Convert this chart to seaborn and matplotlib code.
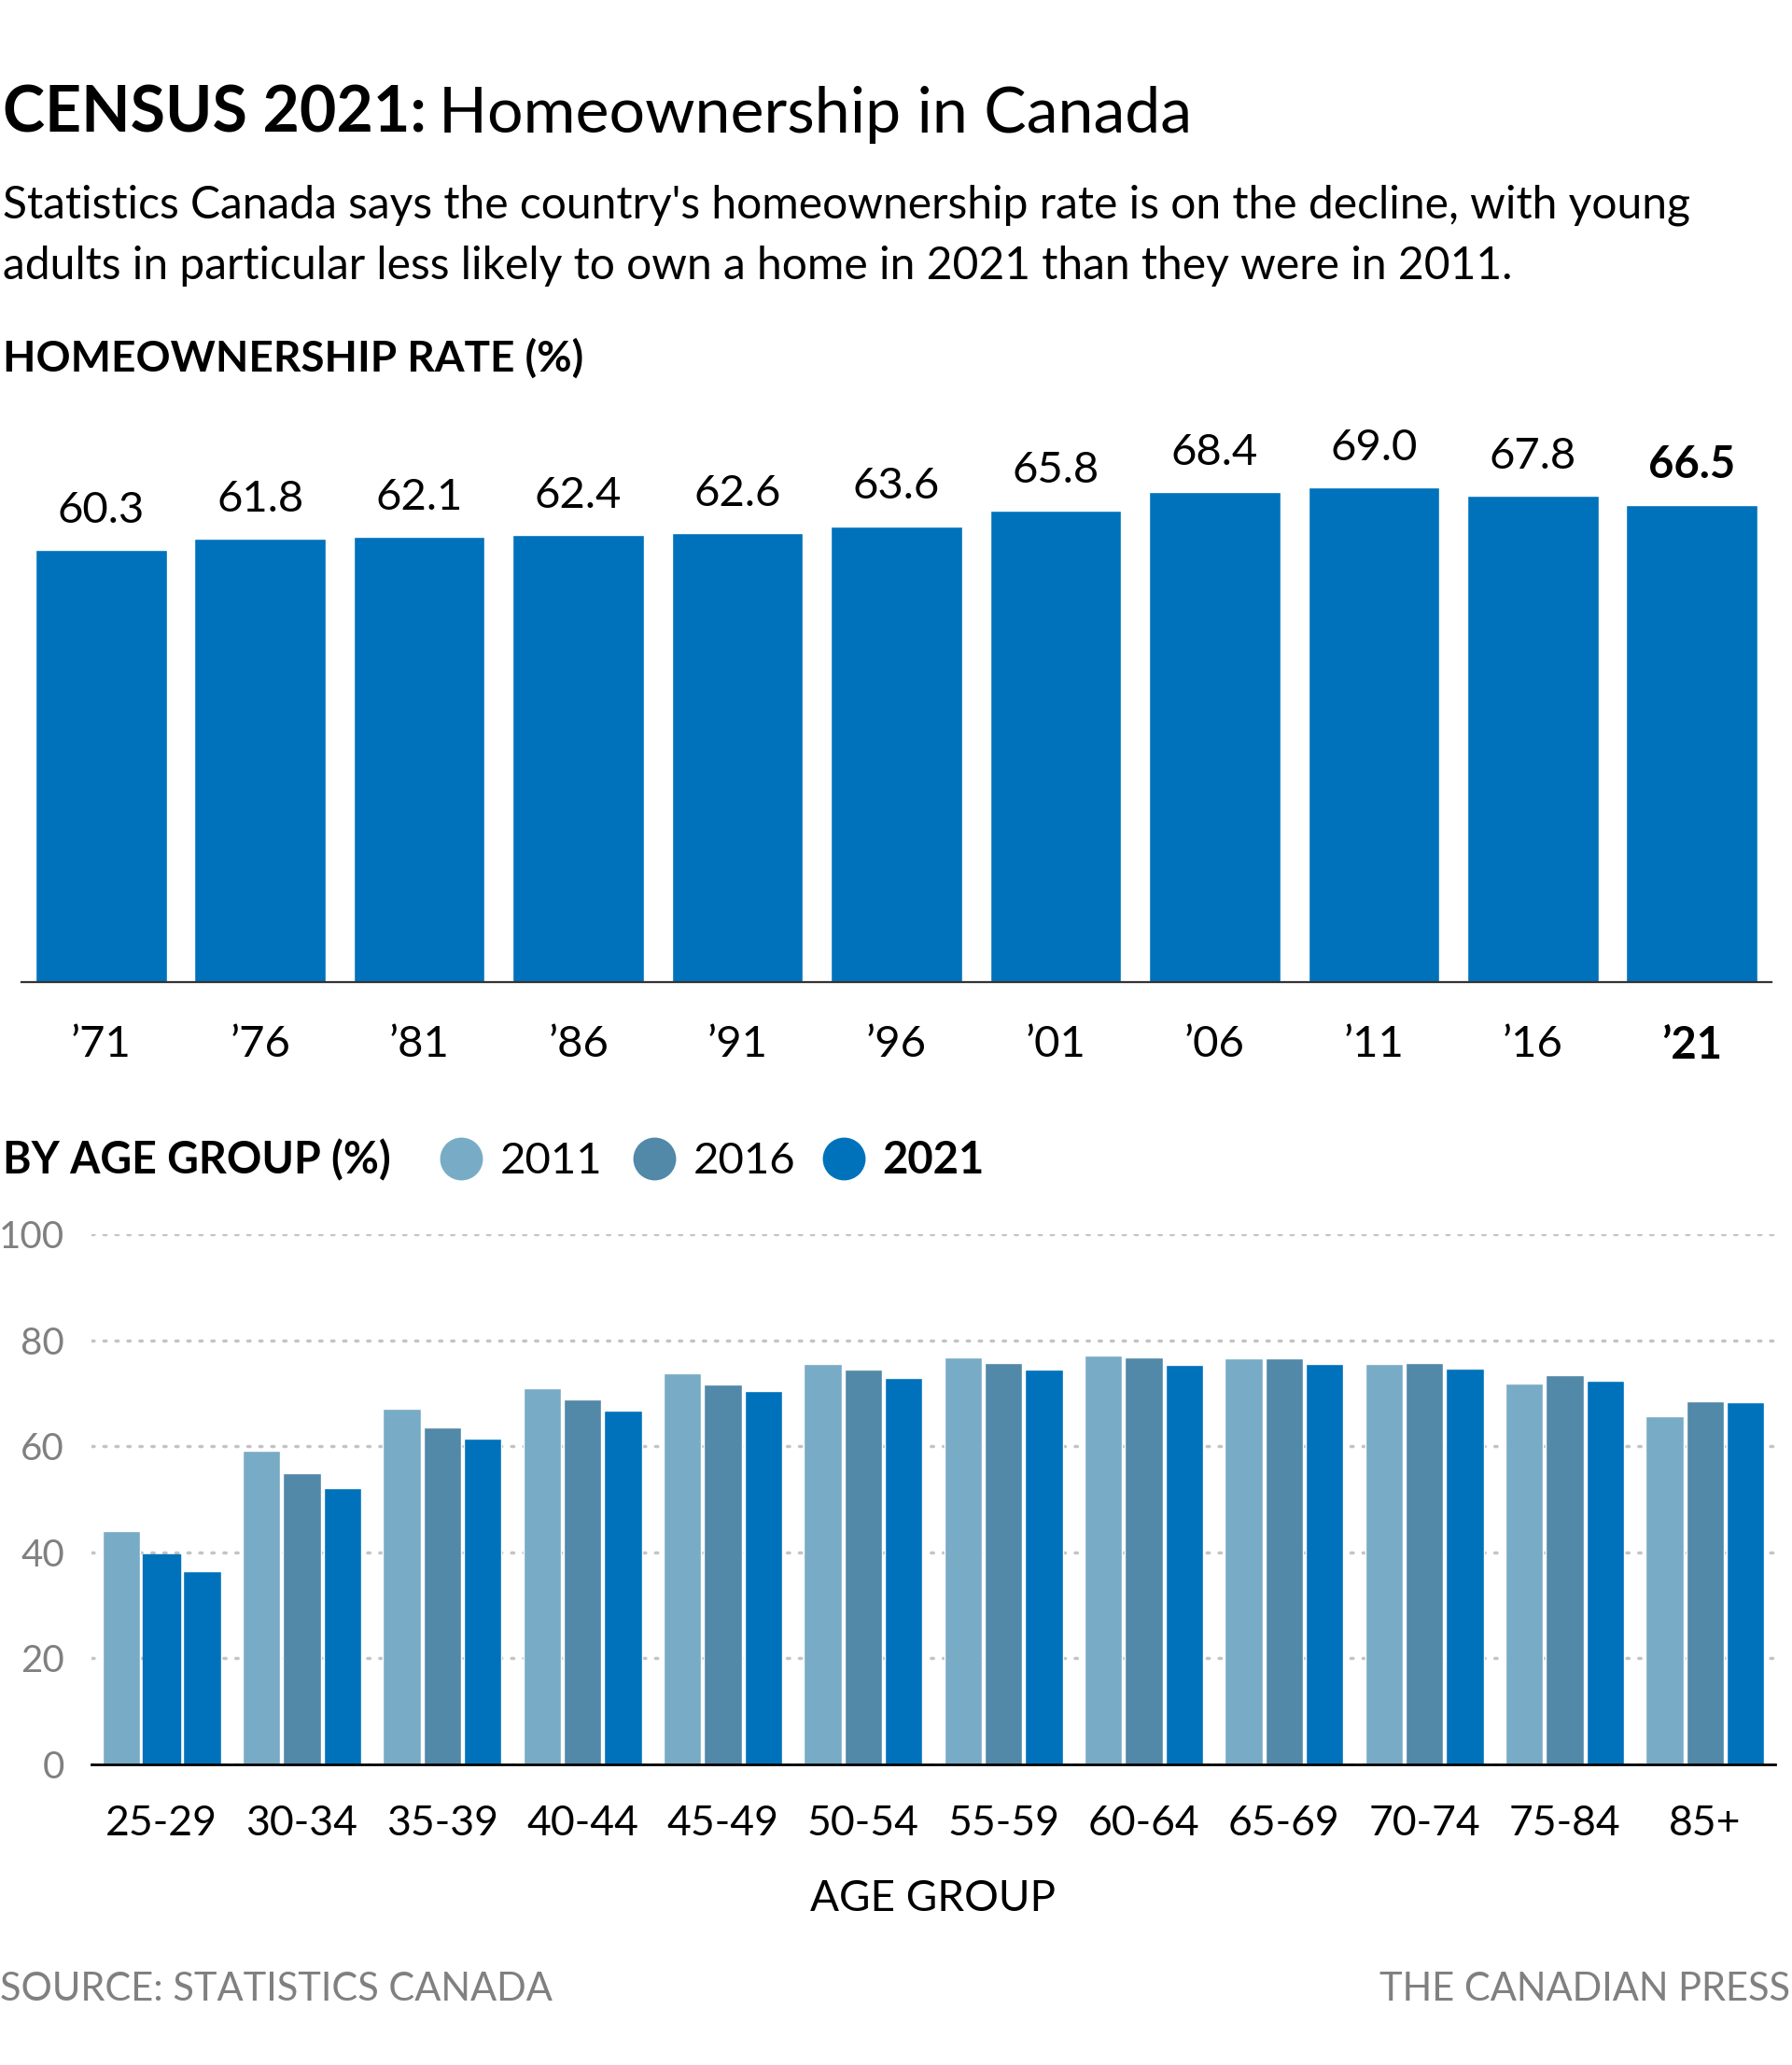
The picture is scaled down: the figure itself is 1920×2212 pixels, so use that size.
import numpy as np
import pandas as pd
import matplotlib
matplotlib.use("Agg")
import matplotlib.pyplot as plt
import seaborn as sns
from matplotlib.lines import Line2D

# ---------------- data ----------------
census_years = ["\u201971", "\u201976", "\u201981", "\u201986", "\u201991", "\u201996",
                "\u201901", "\u201906", "\u201911", "\u201916", "\u201921"]
overall_rate = [60.3, 61.8, 62.1, 62.4, 62.6, 63.6, 65.8, 68.4, 69.0, 67.8, 66.5]

age_groups = ["25-29", "30-34", "35-39", "40-44", "45-49", "50-54",
              "55-59", "60-64", "65-69", "70-74", "75-84", "85+"]
rate_2011 = [44.0, 59.1, 67.0, 71.0, 73.7, 75.6, 76.8, 77.1, 76.6, 75.5, 71.9, 65.7]
rate_2016 = [39.6, 55.0, 63.5, 68.9, 71.7, 74.4, 75.7, 76.7, 76.6, 75.7, 73.4, 68.5]
rate_2021 = [36.5, 52.2, 61.5, 66.7, 70.5, 72.8, 74.5, 75.3, 75.5, 74.7, 72.3, 68.3]
series_years = ["2011", "2016", "2021"]

# ---------------- style ----------------
BLUE = "#0072bb"
C2011 = "#78abc6"
C2016 = "#5288a8"
GRAY = "#808080"

sns.set_theme(style="white")
plt.rcParams["font.family"] = ["Lato", "DejaVu Sans"]

W, H = 1920, 2212
fig = plt.figure(figsize=(W / 100, H / 100), dpi=100)

def fy(px):
    return 1 - px / H

def fx(px):
    return px / W

# ---------------- header text ----------------
renderer = fig.canvas.get_renderer()
t1 = fig.text(fx(3), fy(142), "CENSUS 2021:", fontsize=49, fontweight="bold",
              va="baseline", ha="left", color="black")
bb = t1.get_window_extent(renderer=renderer)
fig.text(bb.x1 / W + fx(13), fy(142), "Homeownership in Canada", fontsize=49,
         va="baseline", ha="left", color="black")

fig.text(fx(3), fy(233),
         "Statistics Canada says the country's homeownership rate is on the decline, with young",
         fontsize=34.6, va="baseline", ha="left", color="black")
fig.text(fx(3), fy(299),
         "adults in particular less likely to own a home in 2021 than they were in 2011.",
         fontsize=34.6, va="baseline", ha="left", color="black")
fig.text(fx(3), fy(398), "HOMEOWNERSHIP RATE (%)", fontsize=33, fontweight="bold",
         va="baseline", ha="left", color="black")

# ---------------- top chart ----------------
ax1_left, ax1_right = 23, 1898
ax1_base, ax1_top = 1052, 1052 - 80 * 7.68
ax1 = fig.add_axes([fx(ax1_left), fy(ax1_base), (ax1_right - ax1_left) / W,
                    (ax1_base - ax1_top) / H])
sns.barplot(x=census_years, y=overall_rate, color=BLUE, saturation=1, width=0.825,
            ax=ax1)
ax1.set_ylim(0, 80)
ax1.set_xlim(-0.5, 10.5)
for s in ["left", "right", "top"]:
    ax1.spines[s].set_visible(False)
ax1.spines["bottom"].set_color("#333333")
ax1.spines["bottom"].set_linewidth(1.6)
ax1.set_yticks([])
ax1.set_ylabel("")
ax1.set_xlabel("")
ax1.tick_params(axis="x", length=0, pad=33, labelsize=34, labelcolor="black")
labels = ax1.get_xticklabels()
labels[-1].set_fontweight("bold")
for i, v in enumerate(overall_rate):
    ax1.annotate(f"{v:.1f}", (i, v), xytext=(0, 21), textcoords="offset points",
                 ha="center", va="baseline", fontsize=34, color="black",
                 fontweight="bold" if i == len(overall_rate) - 1 else "normal")

# ---------------- bottom chart heading & legend ----------------
fig.text(fx(3), fy(1257), "BY AGE GROUP (%)", fontsize=33.5, fontweight="bold",
         va="baseline", ha="left", color="black")
leg_colors = [C2011, C2016, BLUE]
circle_x = [494, 701, 904]
text_x = [536, 743, 945]
for c, cx, tx, lab in zip(leg_colors, circle_x, text_x, series_years):
    fig.add_artist(Line2D([fx(cx)], [fy(1241)], marker="o", markersize=32,
                          markerfacecolor=c, markeredgecolor=c, linestyle="none",
                          transform=fig.transFigure))
    fig.text(fx(tx), fy(1257), lab, fontsize=34, va="baseline", ha="left",
             color="black", fontweight="bold" if lab == "2021" else "normal")

# ---------------- bottom chart ----------------
ax2_left, ax2_right = 98, 1902
ax2_base, ax2_top = 1890, 1322
ax2 = fig.add_axes([fx(ax2_left), fy(ax2_base), (ax2_right - ax2_left) / W,
                    (ax2_base - ax2_top) / H])
df = pd.DataFrame({
    "age": age_groups * 3,
    "rate": rate_2011 + rate_2016 + rate_2021,
    "year": [y for y in series_years for _ in age_groups],
})
sns.barplot(data=df, x="age", y="rate", hue="year", hue_order=series_years,
            palette=leg_colors, saturation=1, width=0.864, gap=0.07,
            ax=ax2, legend=False, zorder=2)
# the 2016 bar for 25-29 is drawn in the 2021 colour in the original graphic
ax2.containers[1][0].set_facecolor(BLUE)
ax2.containers[1][0].set_edgecolor(BLUE)

ax2.set_ylim(0, 100)
ax2.set_xlim(-0.5, 11.5)
ax2.set_yticks([0, 20, 40, 60, 80, 100])
ax2.yaxis.grid(True, color="#c4c4c4", linewidth=2.5, linestyle=(0, (0.7, 3.0)),
               dash_capstyle="round")
ax2.set_axisbelow(True)
for s in ["left", "right", "top"]:
    ax2.spines[s].set_visible(False)
ax2.spines["bottom"].set_color("black")
ax2.spines["bottom"].set_linewidth(2.0)
ax2.spines["bottom"].set_zorder(5)
ax2.tick_params(axis="y", length=0, pad=21, labelsize=29, labelcolor=GRAY)
ax2.tick_params(axis="x", length=0, pad=31, labelsize=32, labelcolor="black")
ax2.set_ylabel("")
ax2.set_xlabel("AGE GROUP", fontsize=33, color="black", labelpad=28)

# ---------------- footer ----------------
fig.text(fx(0), fy(2143), "SOURCE: STATISTICS CANADA", fontsize=30, color=GRAY,
         va="baseline", ha="left")
fig.text(fx(1918), fy(2143), "THE CANADIAN PRESS", fontsize=30, color=GRAY,
         va="baseline", ha="right")

fig.savefig("out.png", dpi=100, facecolor="white")
